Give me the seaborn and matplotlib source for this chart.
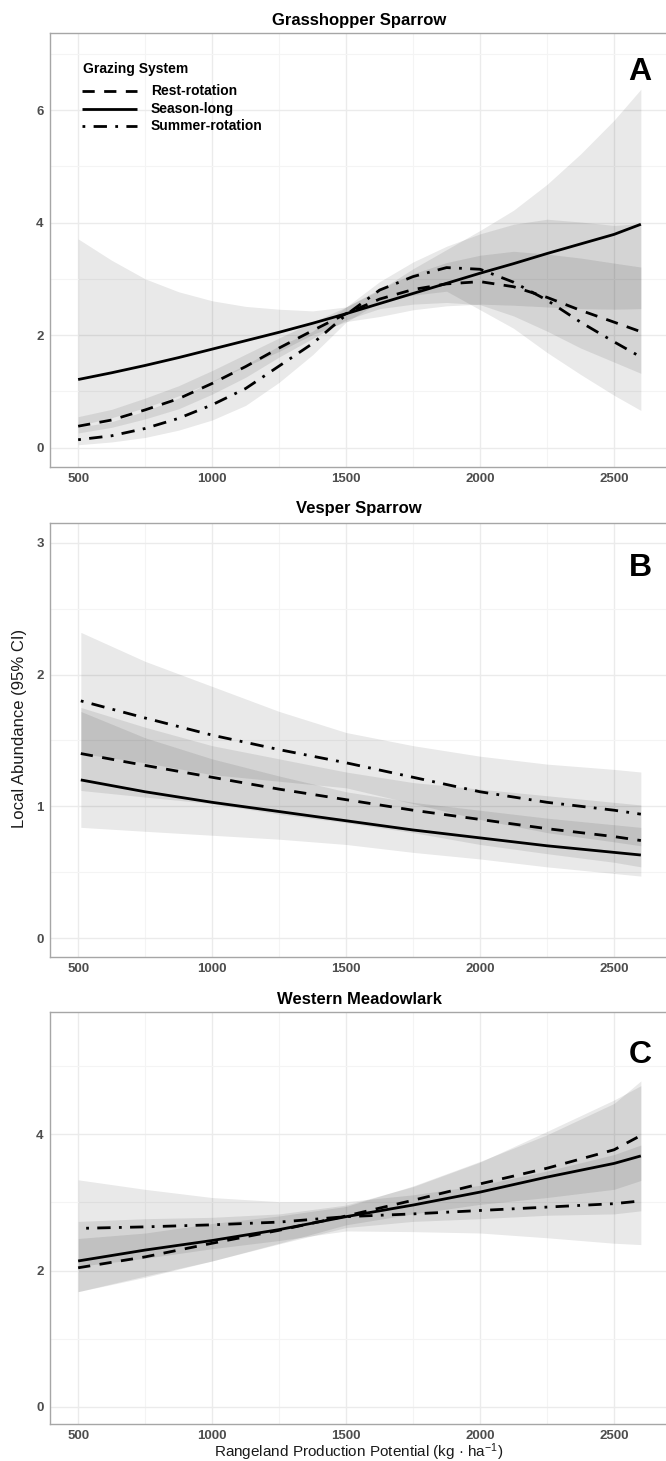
import numpy as np
import pandas as pd
import matplotlib
matplotlib.use("Agg")
import matplotlib.pyplot as plt
import seaborn as sns
from matplotlib.lines import Line2D
from matplotlib.ticker import MultipleLocator

# ---------------- data ----------------
SYSTEMS = ["Rest-rotation", "Season-long", "Summer-rotation"]

# Panel A - Grasshopper Sparrow
A_x = [500, 625, 750, 875, 1000, 1125, 1250, 1375, 1500, 1625, 1750, 1875, 2000, 2125, 2250, 2375, 2500, 2600]
A_rest = [0.38, 0.49, 0.67, 0.87, 1.14, 1.44, 1.77, 2.08, 2.38, 2.64, 2.81, 2.91, 2.95, 2.86, 2.67, 2.44, 2.23, 2.06]
A_rest_lo = [0.26, 0.36, 0.51, 0.69, 0.95, 1.25, 1.61, 1.94, 2.27, 2.47, 2.55, 2.58, 2.54, 2.34, 2.07, 1.77, 1.52, 1.32]
A_rest_hi = [0.55, 0.68, 0.88, 1.10, 1.37, 1.66, 1.95, 2.23, 2.50, 2.82, 3.09, 3.29, 3.42, 3.49, 3.44, 3.37, 3.28, 3.21]
A_season = [1.21, 1.33, 1.46, 1.60, 1.75, 1.90, 2.05, 2.21, 2.38, 2.56, 2.74, 2.92, 3.10, 3.27, 3.45, 3.62, 3.79, 3.97]
A_season_lo = [0.39, 0.53, 0.71, 0.92, 1.17, 1.44, 1.71, 2.01, 2.24, 2.33, 2.45, 2.52, 2.55, 2.53, 2.50, 2.47, 2.46, 2.47]
A_season_hi = [3.71, 3.33, 3.00, 2.77, 2.61, 2.51, 2.46, 2.43, 2.50, 2.80, 3.18, 3.52, 3.86, 4.22, 4.68, 5.22, 5.82, 6.37]
A_summer = [0.14, 0.21, 0.34, 0.52, 0.76, 1.05, 1.45, 1.85, 2.36, 2.80, 3.04, 3.20, 3.17, 2.94, 2.62, 2.23, 1.88, 1.61]
A_summer_lo = [0.05, 0.10, 0.18, 0.31, 0.49, 0.75, 1.16, 1.65, 2.23, 2.59, 2.71, 2.78, 2.45, 2.12, 1.69, 1.30, 0.93, 0.66]
A_summer_hi = [0.36, 0.46, 0.65, 0.88, 1.18, 1.47, 1.81, 2.07, 2.50, 2.95, 3.30, 3.58, 3.80, 3.97, 4.06, 4.01, 3.95, 3.98]

# Panel B - Vesper Sparrow
B_x = [510, 750, 1000, 1250, 1500, 1750, 2000, 2250, 2500, 2600]
B_rest = [1.40, 1.31, 1.22, 1.13, 1.05, 0.97, 0.90, 0.83, 0.77, 0.74]
B_rest_lo = [1.12, 1.07, 1.02, 0.94, 0.875, 0.80, 0.71, 0.64, 0.575, 0.54]
B_rest_hi = [1.75, 1.60, 1.46, 1.36, 1.26, 1.18, 1.13, 1.08, 1.03, 1.01]
B_season = [1.20, 1.11, 1.03, 0.96, 0.89, 0.82, 0.76, 0.70, 0.65, 0.63]
B_season_lo = [0.84, 0.81, 0.78, 0.75, 0.71, 0.65, 0.60, 0.54, 0.49, 0.47]
B_season_hi = [1.72, 1.52, 1.36, 1.23, 1.11, 1.03, 0.97, 0.91, 0.86, 0.84]
B_summer = [1.80, 1.67, 1.54, 1.43, 1.33, 1.22, 1.11, 1.03, 0.97, 0.94]
B_summer_lo = [1.40, 1.33, 1.24, 1.19, 1.14, 1.02, 0.90, 0.80, 0.73, 0.70]
B_summer_hi = [2.32, 2.10, 1.91, 1.72, 1.56, 1.46, 1.38, 1.32, 1.28, 1.26]

# Panel C - Western Meadowlark
C_x = [500, 750, 1000, 1250, 1500, 1750, 2000, 2250, 2500, 2600]
C_x_summer = [530, 750, 1000, 1250, 1500, 1750, 2000, 2250, 2500, 2600]
C_rest = [2.04, 2.20, 2.40, 2.59, 2.80, 3.03, 3.27, 3.50, 3.77, 3.98]
C_rest_lo = [1.69, 1.90, 2.14, 2.40, 2.67, 2.83, 2.97, 3.07, 3.19, 3.32]
C_rest_hi = [2.47, 2.55, 2.69, 2.80, 2.94, 3.24, 3.60, 3.99, 4.45, 4.78]
C_season = [2.14, 2.30, 2.44, 2.60, 2.79, 2.96, 3.15, 3.37, 3.57, 3.68]
C_season_lo = [1.69, 1.92, 2.14, 2.39, 2.63, 2.72, 2.76, 2.81, 2.83, 2.875]
C_season_hi = [2.72, 2.76, 2.78, 2.83, 2.96, 3.23, 3.59, 4.04, 4.50, 4.71]
C_summer = [2.62, 2.64, 2.67, 2.71, 2.79, 2.83, 2.88, 2.93, 2.98, 3.02]
C_summer_lo = [2.06, 2.18, 2.32, 2.44, 2.58, 2.57, 2.55, 2.48, 2.40, 2.38]
C_summer_hi = [3.33, 3.19, 3.07, 3.01, 3.01, 3.11, 3.25, 3.46, 3.70, 3.84]

TITLES = ["Grasshopper Sparrow", "Vesper Sparrow", "Western Meadowlark"]
LETTERS = ["A", "B", "C"]
X_TICKS = [500, 1000, 1500, 2000, 2500]
A_YTICKS = [0, 2, 4, 6]
B_YTICKS = [0, 1, 2, 3]
C_YTICKS = [0, 2, 4]
LEGEND_TITLE = "Grazing System"

# ---------------- styling ----------------
sns.set_theme(style="white")
plt.rcParams["font.family"] = ["Liberation Sans", "DejaVu Sans"]
plt.rcParams["mathtext.fontset"] = "custom"
plt.rcParams["mathtext.rm"] = "Liberation Sans"
plt.rcParams["mathtext.it"] = "Liberation Sans:italic"
plt.rcParams["mathtext.bf"] = "Liberation Sans:bold"

W, H = 666, 1461
fig = plt.figure(figsize=(W / 100, H / 100), dpi=100)

DASHES = {"Rest-rotation": (4.4, 3.4), "Season-long": "", "Summer-rotation": (1.0, 3.0, 4.8, 3.0)}
LW = 2.0
BAND_ALPHA = 0.085
GRID = "#EBEBEB"
BORDER = "#A6A6A6"

panels = [
    dict(x={"Rest-rotation": A_x, "Season-long": A_x, "Summer-rotation": A_x},
         bx={"Rest-rotation": A_x, "Season-long": A_x, "Summer-rotation": A_x},
         y={"Rest-rotation": A_rest, "Season-long": A_season, "Summer-rotation": A_summer},
         lo={"Rest-rotation": A_rest_lo, "Season-long": A_season_lo, "Summer-rotation": A_summer_lo},
         hi={"Rest-rotation": A_rest_hi, "Season-long": A_season_hi, "Summer-rotation": A_summer_hi},
         ylim=(-0.345, 7.37), yticks=A_YTICKS, yminor=1, top=33, bottom=467, title_y=20, letter_y=72),
    dict(x={"Rest-rotation": B_x, "Season-long": B_x, "Summer-rotation": B_x},
         bx={"Rest-rotation": B_x, "Season-long": B_x, "Summer-rotation": B_x},
         y={"Rest-rotation": B_rest, "Season-long": B_season, "Summer-rotation": B_summer},
         lo={"Rest-rotation": B_rest_lo, "Season-long": B_season_lo, "Summer-rotation": B_summer_lo},
         hi={"Rest-rotation": B_rest_hi, "Season-long": B_season_hi, "Summer-rotation": B_summer_hi},
         ylim=(-0.144, 3.15), yticks=B_YTICKS, yminor=0.5, top=523, bottom=957, title_y=509, letter_y=568),
    dict(x={"Rest-rotation": C_x, "Season-long": C_x, "Summer-rotation": C_x_summer},
         bx={"Rest-rotation": C_x, "Season-long": C_x, "Summer-rotation": C_x},
         y={"Rest-rotation": C_rest, "Season-long": C_season, "Summer-rotation": C_summer},
         lo={"Rest-rotation": C_rest_lo, "Season-long": C_season_lo, "Summer-rotation": C_summer_lo},
         hi={"Rest-rotation": C_rest_hi, "Season-long": C_season_hi, "Summer-rotation": C_summer_hi},
         ylim=(-0.25, 5.79), yticks=C_YTICKS, yminor=1, top=1012, bottom=1424, title_y=999, letter_y=1055),
]

left_px, right_px = 50, 669
for i, p in enumerate(panels):
    ax = fig.add_axes([left_px / W, 1 - p["bottom"] / H, (right_px - left_px) / W, (p["bottom"] - p["top"]) / H])
    ax.set_facecolor("white")
    # confidence bands
    for s in SYSTEMS:
        ax.fill_between(p["bx"][s], p["lo"][s], p["hi"][s], color="black", alpha=BAND_ALPHA,
                        linewidth=0, zorder=1)
    # lines via seaborn
    rows = []
    for s in SYSTEMS:
        for xv, yv in zip(p["x"][s], p["y"][s]):
            rows.append({"x": xv, "y": yv, "system": s})
    df = pd.DataFrame(rows)
    sns.lineplot(data=df, x="x", y="y", style="system", style_order=SYSTEMS, dashes=DASHES,
                 color="black", linewidth=LW, estimator=None, sort=False, legend=False, ax=ax, zorder=3)
    for ln in ax.lines:
        ln.set_solid_capstyle("butt")
        ln.set_dash_capstyle("butt")
        ln.set_solid_joinstyle("round")
        ln.set_dash_joinstyle("round")

    ax.set_xlim(395, 2705)
    ax.set_ylim(*p["ylim"])
    ax.set_xticks(X_TICKS, labels=[str(t) for t in X_TICKS], fontweight="bold")
    ax.set_yticks(p["yticks"], labels=[str(t) for t in p["yticks"]], fontweight="bold")
    ax.xaxis.set_minor_locator(MultipleLocator(250))
    ax.yaxis.set_minor_locator(MultipleLocator(p["yminor"]))
    ax.grid(which="major", color=GRID, linewidth=1.0, zorder=0)
    ax.grid(which="minor", color="#F4F4F4", linewidth=0.8, zorder=0)
    ax.set_axisbelow(True)
    ax.tick_params(axis="both", which="major", length=2.5, width=0.8, color="#555555",
                   labelsize=9.5, labelcolor="#4D4D4D", pad=2)
    ax.tick_params(axis="both", which="minor", length=0)
    ax.set_xlabel("")
    ax.set_ylabel("")
    for sp in ["top", "left", "bottom", "right"]:
        ax.spines[sp].set_color(BORDER)
        ax.spines[sp].set_linewidth(1.0)

    fig.text(359 / W, 1 - p["title_y"] / H, TITLES[i], ha="center", va="center",
             fontsize=12, fontweight="bold", color="black")
    fig.text(640 / W, 1 - p["letter_y"] / H, LETTERS[i], ha="center", va="center",
             fontsize=23, fontweight="bold", color="black")

# ---- legend (manual, inside panel A) ----
fig.text(83 / W, 1 - 69 / H, LEGEND_TITLE, ha="left", va="center", fontsize=10,
         fontweight="bold", color="black")
for k, s in enumerate(SYSTEMS):
    yy = 1 - (91 + 17.6 * k) / H
    ls = "-" if DASHES[s] == "" else (0, DASHES[s])
    fig.add_artist(Line2D([82 / W, 137 / W], [yy, yy], transform=fig.transFigure, color="black",
                          linewidth=LW, linestyle=ls, solid_capstyle="butt", dash_capstyle="butt"))
    fig.text(151 / W, yy, s, ha="left", va="center", fontsize=10, fontweight="bold", color="black")

fig.text(20 / W, 1 - 728 / H, "Local Abundance (95% CI)", rotation=90, ha="center", va="center",
         fontsize=12, color="#1a1a1a")
fig.text(359 / W, 1 - 1452 / H, "Rangeland Production Potential (kg · ha$^{-1}$)",
         ha="center", va="center", fontsize=11, color="#1a1a1a")

fig.savefig("out.png", dpi=100)
